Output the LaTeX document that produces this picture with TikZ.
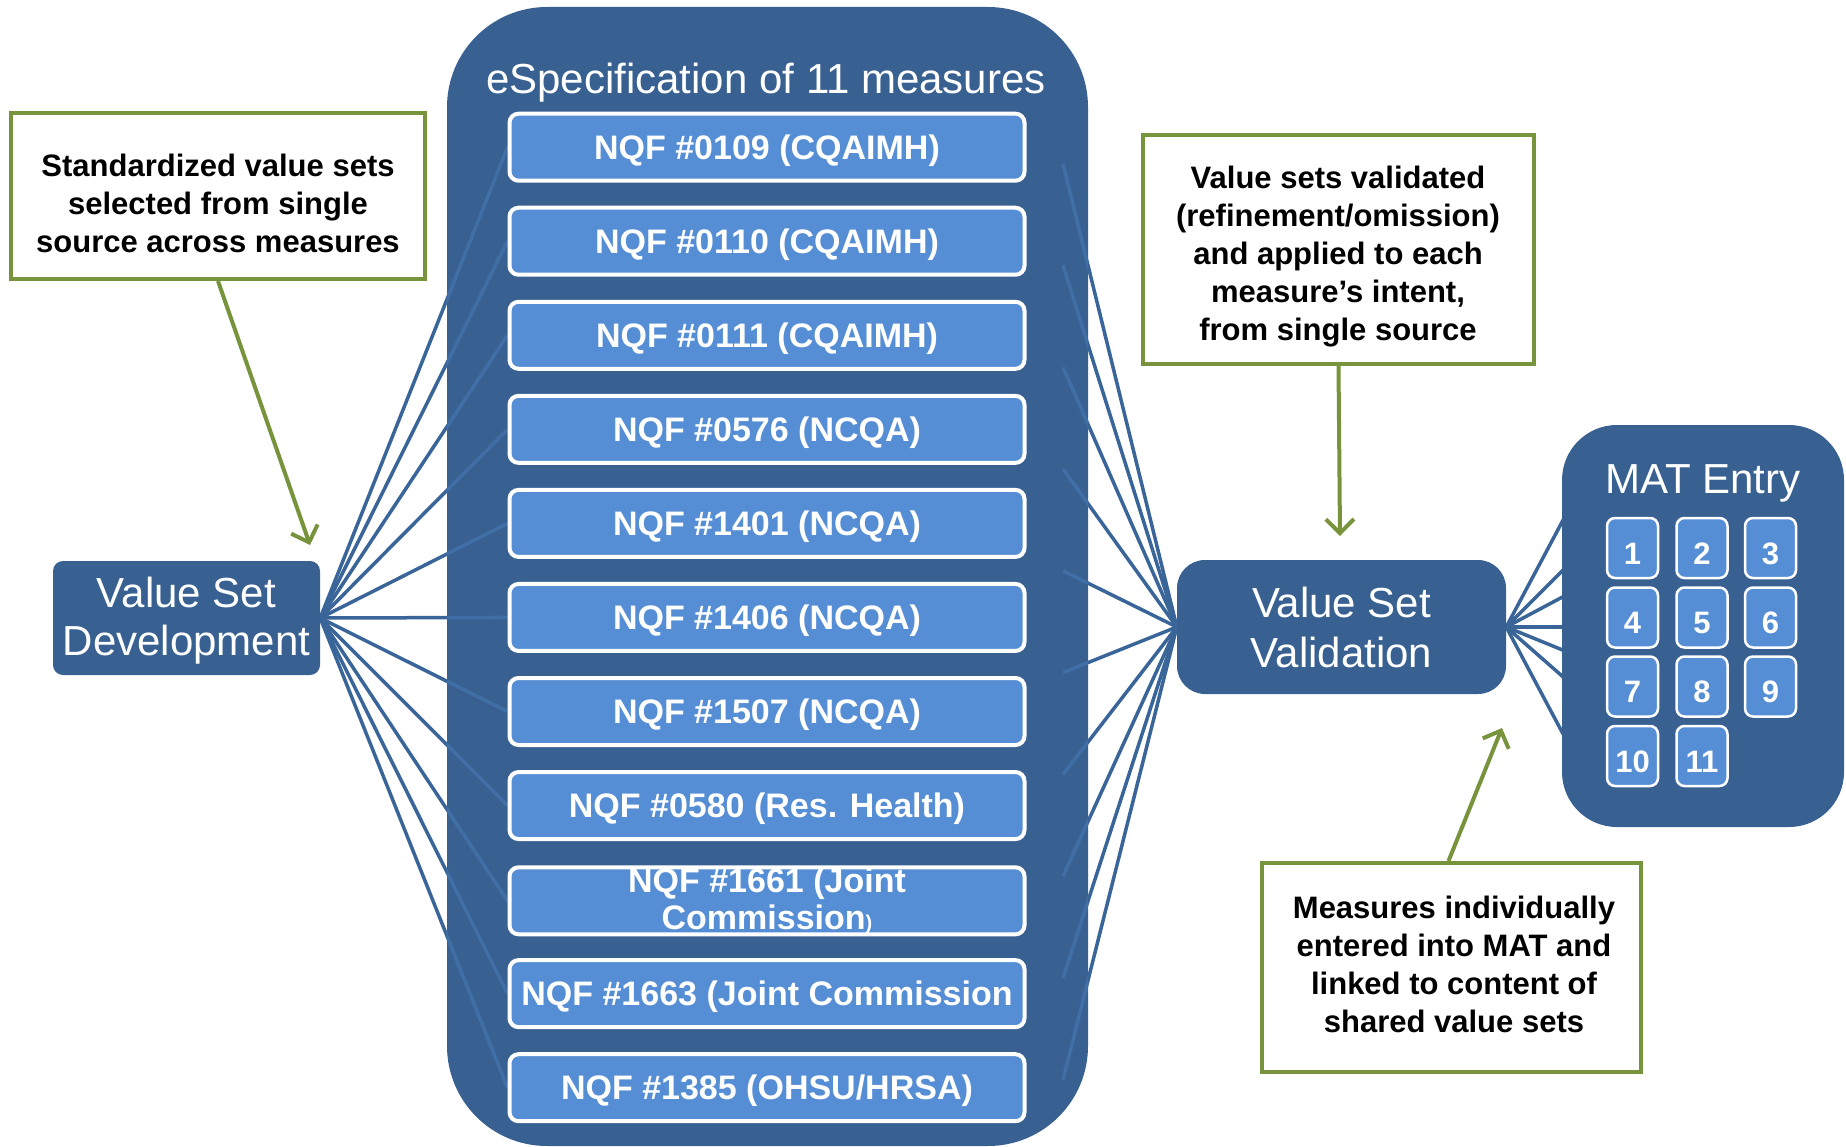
\documentclass[tikz,border=0pt]{standalone}
\usepackage{fontspec}
\setmainfont{Liberation Sans}
\usetikzlibrary{arrows.meta}
\definecolor{cont}{RGB}{56,97,146}
\definecolor{lblue}{RGB}{85,142,213}
\definecolor{lineblue}{RGB}{58,101,152}
\definecolor{grn}{RGB}{119,147,60}
\pgfdeclarelayer{linesl}
\pgfdeclarelayer{contl}
\pgfdeclarelayer{faintl}
\pgfsetlayers{linesl,contl,faintl,main}
\begin{document}
\begin{tikzpicture}[x=1pt,y=-1pt,
  nqf/.style={draw=white, line width=4pt, fill=lblue, rounded corners=9pt, minimum width=515pt, minimum height=67pt, text=white, font=\fontsize{34}{36.5}\selectfont\bfseries, inner sep=0pt, align=center, text height=24.4pt, text depth=0pt},
  numbox/.style={draw=white, line width=2.5pt, fill=lblue, rounded corners=8pt, minimum width=51pt, minimum height=60pt, text=white, font=\fontsize{31}{31}\selectfont\bfseries, inner sep=0pt, text height=32pt, text depth=0pt},
  darkbox/.style={fill=cont, draw=none, text=white, font=\fontsize{42}{48}\selectfont, align=center, inner sep=0pt},
  calloutbox/.style={draw=grn, line width=4pt, fill=white, inner sep=0pt},
  callouttext/.style={text=black, font=\fontsize{31}{38}\selectfont\bfseries, align=center, inner sep=0pt},
  conn/.style={draw=lineblue, line width=3.5pt},
  faint/.style={draw=lblue, line width=3.5pt, opacity=0.3},
  garrow/.style={draw=grn, line width=4pt, -{Straight Barb[length=14pt,width=28pt]}},
]
\useasboundingbox (0,0) rectangle (1846,1147);

% eSpecification container
\begin{pgfonlayer}{contl}
\node[fill=cont, rounded corners=100pt, minimum width=641pt, minimum height=1139pt, inner sep=0pt] (espec) at (767.5,576.5) {};
\end{pgfonlayer}
\node[text=white, font=\fontsize{42}{42}\selectfont, inner sep=0pt] (etitle) at (766,83) {eSpecification of 11 measures};

% NQF boxes
\node[nqf] (n1) at (767,147.2) {NQF \#0109 (CQAIMH)};
\node[nqf] (n2) at (767,241.25) {NQF \#0110 (CQAIMH)};
\node[nqf] (n3) at (767,335.3) {NQF \#0111 (CQAIMH)};
\node[nqf] (n4) at (767,429.35) {NQF \#0576 (NCQA)};
\node[nqf] (n5) at (767,523.4) {NQF \#1401 (NCQA)};
\node[nqf] (n6) at (767,617.45) {NQF \#1406 (NCQA)};
\node[nqf] (n7) at (767,711.5) {NQF \#1507 (NCQA)};
\node[nqf] (n8) at (767,805.55) {NQF \#0580 (Res. Health)};
\node[nqf, text height=, text depth=] (n9) at (767,900.8) {NQF \#1661 (Joint\\Commission{\fontsize{20}{20}\selectfont)}};
\node[nqf] (n10) at (767,993.65) {NQF \#1663 (Joint Commission};
\node[nqf] (n11) at (767,1087.7) {NQF \#1385 (OHSU/HRSA)};

% Value Set Development
\node[darkbox, rounded corners=10pt, minimum width=267pt, minimum height=114pt] (vsd) at (186.5,618) {};
\node[text=white, font=\fontsize{42}{48}\selectfont, align=center, inner sep=0pt] (vsdt) at (186.5,621) {Value Set\\Development};

% Value Set Validation
\node[darkbox, rounded corners=28pt, minimum width=329pt, minimum height=134pt] (vsv) at (1341.5,627) {Value Set\\[2pt]Validation};

% MAT container
\node[fill=cont, rounded corners=55pt, minimum width=282pt, minimum height=402pt, inner sep=0pt] (mat) at (1703,626) {};
\node[text=white, font=\fontsize{42}{42}\selectfont, inner sep=0pt] (mtitle) at (1703,483) {MAT Entry};
\node[numbox] (b1) at (1632.5,548) {1};
\node[numbox] (b2) at (1702,548) {2};
\node[numbox] (b3) at (1770.5,548) {3};
\node[numbox] (b4) at (1632.5,617.5) {4};
\node[numbox] (b5) at (1702,617.5) {5};
\node[numbox] (b6) at (1770.5,617.5) {6};
\node[numbox] (b7) at (1632.5,686.5) {7};
\node[numbox] (b8) at (1702,686.5) {8};
\node[numbox] (b9) at (1770.5,686.5) {9};
\node[numbox] (b10) at (1632.5,756) {10};
\node[numbox] (b11) at (1702,756) {11};

% right-side fan start points
\foreach \k in {1,...,10} {
  \coordinate (r\k) at (1063,{163.6+101.8*(\k-1)});
}
% MAT fan end points
\coordinate (m1) at (1570,507);
\coordinate (m2) at (1570,563);
\coordinate (m3) at (1570,593);
\coordinate (m4) at (1570,627);
\coordinate (m5) at (1570,653);
\coordinate (m6) at (1570,683);
\coordinate (m7) at (1570,747);

% connectors
\begin{pgfonlayer}{linesl}
\foreach \i in {1,...,11} { \draw[conn] (vsd.east) -- (n\i.west); }
\foreach \k in {1,...,10} { \draw[conn] (r\k) -- (vsv.west); }
\foreach \k in {1,...,7} { \draw[conn] (vsv.east) -- (m\k); }
\end{pgfonlayer}
\begin{pgfonlayer}{faintl}
\begin{scope}
\clip[rounded corners=100pt] (espec.north west) rectangle (espec.south east);
\foreach \i in {1,...,11} { \draw[faint] (vsd.east) -- (n\i.west); }
\foreach \k in {1,...,10} { \draw[faint] (r\k) -- (vsv.west); }
\end{scope}
\end{pgfonlayer}

% callouts
\node[calloutbox, minimum width=414pt, minimum height=166pt] (c1) at (218,196) {};
\node[callouttext] (c1t) at (218,203) {Standardized value sets\\selected from single\\source across measures};
\node[calloutbox, minimum width=391pt, minimum height=229pt] (c2) at (1338.5,249.5) {};
\node[callouttext] (c2t) at (1338,257) {Value sets validated\\(refinement/omission)\\and applied to each\\measure’s intent,\\from single source};
\node[calloutbox, minimum width=379pt, minimum height=209pt] (c3) at (1451.5,967.5) {};
\node[callouttext] (c3t) at (1454,964) {Measures individually\\entered into MAT and\\linked to content of\\shared value sets};

\coordinate (a1) at (310,545);
\coordinate (a2) at (1340,536);
\coordinate (a3) at (1502,728);
\draw[garrow] (c1.south) -- (a1);
\draw[garrow] (c2.south) -- (a2);
\draw[garrow] ([xshift=-3pt]c3.north) -- (a3);
\end{tikzpicture}
\end{document}
